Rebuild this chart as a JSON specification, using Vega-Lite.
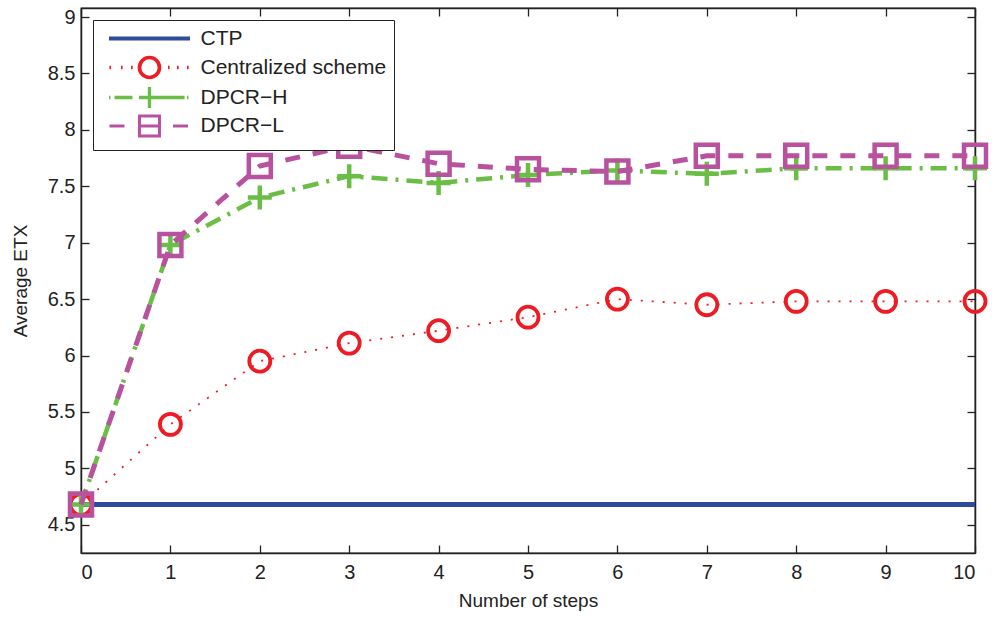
{
  "$schema": "https://vega.github.io/schema/vega-lite/v6.json",
  "width": 894,
  "height": 545,
  "autosize": "none",
  "padding": {"left": 81, "top": 8, "right": 17, "bottom": 66},
  "background": "white",
  "config": {
    "view": {"stroke": "#222", "strokeWidth": 1.3},
    "font": "Liberation Sans",
    "axis": {
      "domainColor": "#222", "domainWidth": 1.5, "tickColor": "#222", "tickWidth": 1.3,
      "labelColor": "#222", "titleColor": "#222", "labelFont": "Liberation Sans", "titleFont": "Liberation Sans",
      "labelFontSize": 20, "titleFontSize": 19, "titleFontWeight": "normal", "grid": false, "tickSize": -8
    },
    "legend": {
      "orient": "none", "legendX": 12, "legendY": 12, "title": null, "padding": 7,
      "strokeColor": "#222", "fillColor": "white",
      "labelFont": "Liberation Sans", "labelFontSize": 21, "labelColor": "#222", "labelLimit": 500,
      "symbolSize": 361, "symbolFillColor": "transparent", "symbolOpacity": 1, "symbolOffset": 7,
      "labelOffset": 70.5, "rowPadding": -27
    }
  },
  "data": {"values": [
    {"step": 0, "series": "CTP", "etx": 4.68}, {"step": 1, "series": "CTP", "etx": 4.68}, {"step": 2, "series": "CTP", "etx": 4.68}, {"step": 3, "series": "CTP", "etx": 4.68}, {"step": 4, "series": "CTP", "etx": 4.68}, {"step": 5, "series": "CTP", "etx": 4.68}, {"step": 6, "series": "CTP", "etx": 4.68}, {"step": 7, "series": "CTP", "etx": 4.68}, {"step": 8, "series": "CTP", "etx": 4.68}, {"step": 9, "series": "CTP", "etx": 4.68}, {"step": 10, "series": "CTP", "etx": 4.68},
    {"step": 0, "series": "Centralized scheme", "etx": 4.68}, {"step": 1, "series": "Centralized scheme", "etx": 5.39}, {"step": 2, "series": "Centralized scheme", "etx": 5.95}, {"step": 3, "series": "Centralized scheme", "etx": 6.11}, {"step": 4, "series": "Centralized scheme", "etx": 6.22}, {"step": 5, "series": "Centralized scheme", "etx": 6.34}, {"step": 6, "series": "Centralized scheme", "etx": 6.5}, {"step": 7, "series": "Centralized scheme", "etx": 6.45}, {"step": 8, "series": "Centralized scheme", "etx": 6.48}, {"step": 9, "series": "Centralized scheme", "etx": 6.48}, {"step": 10, "series": "Centralized scheme", "etx": 6.48},
    {"step": 0, "series": "DPCR−H", "etx": 4.68}, {"step": 1, "series": "DPCR−H", "etx": 6.98}, {"step": 2, "series": "DPCR−H", "etx": 7.4}, {"step": 3, "series": "DPCR−H", "etx": 7.59}, {"step": 4, "series": "DPCR−H", "etx": 7.53}, {"step": 5, "series": "DPCR−H", "etx": 7.6}, {"step": 6, "series": "DPCR−H", "etx": 7.64}, {"step": 7, "series": "DPCR−H", "etx": 7.61}, {"step": 8, "series": "DPCR−H", "etx": 7.66}, {"step": 9, "series": "DPCR−H", "etx": 7.66}, {"step": 10, "series": "DPCR−H", "etx": 7.66},
    {"step": 0, "series": "DPCR−L", "etx": 4.68}, {"step": 1, "series": "DPCR−L", "etx": 6.98}, {"step": 2, "series": "DPCR−L", "etx": 7.68}, {"step": 3, "series": "DPCR−L", "etx": 7.86}, {"step": 4, "series": "DPCR−L", "etx": 7.7}, {"step": 5, "series": "DPCR−L", "etx": 7.65}, {"step": 6, "series": "DPCR−L", "etx": 7.63}, {"step": 7, "series": "DPCR−L", "etx": 7.77}, {"step": 8, "series": "DPCR−L", "etx": 7.77}, {"step": 9, "series": "DPCR−L", "etx": 7.77}, {"step": 10, "series": "DPCR−L", "etx": 7.77}
  ]},
  "layer": [
    {
      "transform": [{"filter": "datum.series === 'CTP'"}],
      "mark": {"type": "line", "color": "#2f4b9e", "strokeWidth": 5},
      "encoding": {
        "x": {"field": "step", "type": "quantitative", "scale": {"domain": [0, 10], "nice": false, "zero": false},
              "axis": {"orient": "bottom", "values": [0,1,2,3,4,5,6,7,8,9,10], "title": "Number of steps", "labelPadding": 17, "titlePadding": 9}},
        "y": {"field": "etx", "type": "quantitative", "scale": {"domain": [4.25, 9.08], "nice": false, "zero": false},
              "axis": {"orient": "left", "values": [4.5,5,5.5,6,6.5,7,7.5,8,8.5,9], "format": "~g", "title": "Average ETX", "labelPadding": 14, "titlePadding": 17}}
      }
    },
    {
      "transform": [{"filter": "datum.series === 'Centralized scheme'"}],
      "mark": {"type": "line", "color": "#ed1c24", "strokeWidth": 1.8, "strokeDash": [2, 9]},
      "encoding": {
        "x": {"field": "step", "type": "quantitative", "axis": null},
        "y": {"field": "etx", "type": "quantitative", "axis": null}
      }
    },
    {
      "transform": [{"filter": "datum.series === 'Centralized scheme'"}],
      "mark": {"type": "point", "shape": "circle", "size": 441, "filled": false, "color": "#ed1c24", "strokeWidth": 3.8, "opacity": 1},
      "encoding": {
        "x": {"field": "step", "type": "quantitative", "axis": null},
        "y": {"field": "etx", "type": "quantitative", "axis": null}
      }
    },
    {
      "transform": [{"filter": "datum.series === 'DPCR−H'"}],
      "mark": {"type": "line", "color": "#6abd45", "strokeWidth": 4.5, "strokeDash": [16, 8, 3, 8]},
      "encoding": {
        "x": {"field": "step", "type": "quantitative", "axis": null},
        "y": {"field": "etx", "type": "quantitative", "axis": null}
      }
    },
    {
      "transform": [{"filter": "datum.series === 'DPCR−H'"}],
      "mark": {"type": "point", "shape": "M-1,0H1M0,-1V1", "size": 576, "filled": false, "color": "#6abd45", "strokeWidth": 4.5, "opacity": 1},
      "encoding": {
        "x": {"field": "step", "type": "quantitative", "axis": null},
        "y": {"field": "etx", "type": "quantitative", "axis": null}
      }
    },
    {
      "transform": [{"filter": "datum.series === 'DPCR−L'"}],
      "mark": {"type": "line", "color": "#b8529f", "strokeWidth": 5, "strokeDash": [15, 13]},
      "encoding": {
        "x": {"field": "step", "type": "quantitative", "axis": null},
        "y": {"field": "etx", "type": "quantitative", "axis": null}
      }
    },
    {
      "transform": [{"filter": "datum.series === 'DPCR−L'"}],
      "mark": {"type": "point", "shape": "square", "size": 484, "filled": false, "color": "#b8529f", "strokeWidth": 4.5, "opacity": 1},
      "encoding": {
        "x": {"field": "step", "type": "quantitative", "axis": null},
        "y": {"field": "etx", "type": "quantitative", "axis": null}
      }
    },
    {
      "transform": [{"filter": "datum.step < 0"}],
      "mark": {"type": "point", "filled": false, "opacity": 1},
      "encoding": {
        "x": {"field": "step", "type": "quantitative", "axis": {"orient": "top", "values": [0,1,2,3,4,5,6,7,8,9,10], "labels": false, "title": null}},
        "y": {"field": "etx", "type": "quantitative", "axis": {"orient": "right", "values": [4.5,5,5.5,6,6.5,7,7.5,8,8.5,9], "labels": false, "title": null}},
        "color": {
          "field": "series", "type": "nominal",
          "scale": {"domain": ["CTP", "Centralized scheme", "DPCR−H", "DPCR−L"], "range": ["#2f4b9e", "#ed1c24", "#6abd45", "#b8529f"]},
          "legend": {}
        },
        "strokeWidth": {
          "field": "series", "type": "nominal",
          "scale": {"domain": ["CTP", "Centralized scheme", "DPCR−H", "DPCR−L"], "range": [4, 3, 3.5, 3.5]},
          "legend": {}
        },
        "shape": {
          "field": "series", "type": "nominal",
          "scale": {
            "domain": ["CTP", "Centralized scheme", "DPCR−H", "DPCR−L"],
            "range": [
              "M-1,0.95h0.001M-1,0H7.53",
              "M-1,1.16h0.001M-0.95,0h0.17M0.26,0h0.17M1.32,0h0.17M2.207,0A1.053,1.053 0 1,0 4.313,0A1.053,1.053 0 1,0 2.207,0M5.21,0h0.17M6.16,0h0.17M7.21,0h0.17",
              "M-1,0h0.15M-0.42,0H1.47M2.155,0H6.95M3.26,-1.105V1.105M7.21,0h0.15",
              "M-0.95,0H0.63M2.207,-1.053H4.313V1.053H2.207ZM2.207,0H4.313M5.74,0H7.32"
            ]
          },
          "legend": {}
        }
      }
    }
  ],
  "resolve": {"axis": {"x": "independent", "y": "independent"}}
}
